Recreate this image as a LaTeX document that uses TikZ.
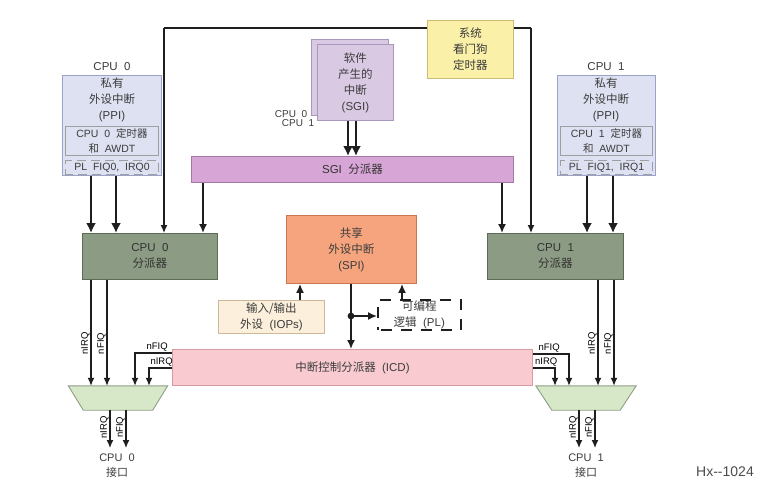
\documentclass[tikz,border=0pt]{standalone}
\usepackage{fontspec}
\setmainfont{Liberation Sans}
\newfontfamily\cjk{Noto Sans CJK SC}
\usetikzlibrary{arrows.meta}
\newcommand{\zh}[1]{{\cjk #1}}
\definecolor{txt}{HTML}{3C3C3C}
\definecolor{ppifill}{HTML}{DDE1F1}
\definecolor{ppidraw}{HTML}{9AA2C8}
\definecolor{sgifill}{HTML}{D9C9E3}
\definecolor{sgidraw}{HTML}{A898BC}
\definecolor{wdfill}{HTML}{FAF0A8}
\definecolor{wddraw}{HTML}{C9BB78}
\definecolor{sgidfill}{HTML}{D7A5D6}
\definecolor{sgiddraw}{HTML}{A577A5}
\definecolor{distfill}{HTML}{8C9B83}
\definecolor{distdraw}{HTML}{5C6B55}
\definecolor{spifill}{HTML}{F6A47E}
\definecolor{spidraw}{HTML}{C97656}
\definecolor{iopfill}{HTML}{FCF0DC}
\definecolor{iopdraw}{HTML}{CDB898}
\definecolor{icdfill}{HTML}{F9CBD0}
\definecolor{icddraw}{HTML}{D69AA2}
\definecolor{muxfill}{HTML}{D6E8C8}
\definecolor{muxdraw}{HTML}{8E9E88}
\definecolor{linec}{HTML}{1E1E1E}
\tikzset{
  box/.style={draw, line width=0.9pt, inner sep=0pt, anchor=north west, align=center},
  dbox/.style={draw=gray!75, line width=1pt, dash pattern=on 9pt off 5pt, dash phase=2pt, inner sep=0pt, anchor=north west, align=center, font=\fontsize{10.5}{12}\selectfont},
  arr/.style={draw=linec, line width=1.6pt, -{Latex[length=9pt,width=8pt]}},
  tarr/.style={draw=linec, line width=2.4pt, -{Latex[length=10pt,width=10pt]}},
  sarr/.style={draw=linec, line width=1.3pt, -{Latex[length=8pt,width=7pt]}},
  sline/.style={draw=linec, line width=1.3pt},
  sig/.style={font=\fontsize{9.5}{10}\selectfont, text=black, inner sep=0.8pt},
  vsig/.style={sig, rotate=90, anchor=south},
  muxshape/.style={fill=muxfill, draw=muxdraw, line width=0.9pt},
  hidden/.style={inner sep=0pt, minimum width=#1, minimum height=24pt},
}
\begin{document}
\begin{tikzpicture}[x=1pt,y=-1pt, font=\fontsize{11.5}{16}\selectfont, text=txt]
\useasboundingbox (0,0) rectangle (773,488);
\fill[white] (0,0) rectangle (773,488);

% top watchdog line (behind the watchdog box)
\coordinate (tl) at (164,28);
\coordinate (tr) at (531,28);
\draw[sline] (tl) -- (tr);

% ---------- boxes ----------
\node[box, fill=wdfill, draw=wddraw, minimum width=86pt, minimum height=58pt] (wd) at (427,20) {\zh{系统}\\\zh{看门狗}\\\zh{定时器}};

% PPI CPU0
\node (c0) at (112,67) {CPU\ \ 0};
\node[box, fill=ppifill, draw=ppidraw, minimum width=99pt, minimum height=100pt] (ppi0) at (62,75) {};
\node[inner sep=0pt, align=center] (ppi0t) at (112,100) {\zh{私有}\\\zh{外设中断}\\(PPI)};
\node[box, fill=ppifill, draw=gray!75, minimum width=93pt, minimum height=29pt, font=\fontsize{10.5}{15}\selectfont] (tm0) at (65,126) {CPU\ \ 0\ \ \zh{定时器}\\\zh{和}\ \ AWDT};
\node[dbox, minimum width=93pt, minimum height=14pt] (pl0) at (65,160) {PL\ \ FIQ0,\ \ IRQ0};

% PPI CPU1
\node (c1) at (606,67) {CPU\ \ 1};
\node[box, fill=ppifill, draw=ppidraw, minimum width=98pt, minimum height=100pt] (ppi1) at (557,75) {};
\node[inner sep=0pt, align=center] (ppi1t) at (606,100) {\zh{私有}\\\zh{外设中断}\\(PPI)};
\node[box, fill=ppifill, draw=gray!75, minimum width=92pt, minimum height=29pt, font=\fontsize{10.5}{15}\selectfont] (tm1) at (560,126) {CPU\ \ 1\ \ \zh{定时器}\\\zh{和}\ \ AWDT};
\node[dbox, minimum width=92pt, minimum height=14pt] (pl1) at (560,160) {PL\ \ FIQ1,\ \ IRQ1};

% SGI
\node[box, fill=sgifill, draw=sgidraw, minimum width=77pt, minimum height=76pt] (sgib) at (311,39) {};
\node[box, fill=sgifill, draw=sgidraw, minimum width=76pt, minimum height=76pt] (sgi) at (317,44) {\zh{软件}\\\zh{产生的}\\\zh{中断}\\(SGI)};
\node[sig, text=txt, font=\fontsize{10}{10}\selectfont] (sc0) at (291,114) {CPU\ \ 0};
\node[sig, text=txt, font=\fontsize{10}{10}\selectfont] (sc1) at (298,123) {CPU\ \ 1};

% SGI distributor
\node[box, fill=sgidfill, draw=sgiddraw, minimum width=322pt, minimum height=26pt, text=black!80] (sgid) at (191,156) {SGI\ \ \zh{分派器}};

% CPU distributors
\node[box, fill=distfill, draw=distdraw, minimum width=135pt, minimum height=46pt, text=black!80] (dist0) at (82,233) {CPU\ \ 0\\\zh{分派器}};
\node[box, fill=distfill, draw=distdraw, minimum width=136pt, minimum height=46pt, text=black!80] (dist1) at (487,233) {CPU\ \ 1\\\zh{分派器}};

% SPI
\node[box, fill=spifill, draw=spidraw, minimum width=130pt, minimum height=68pt] (spi) at (286,215) {\zh{共享}\\\zh{外设中断}\\(SPI)};

% IOPs
\node[box, fill=iopfill, draw=iopdraw, minimum width=106pt, minimum height=33pt] (iop) at (218,300) {\zh{输入/输出}\\\zh{外设}\ \ (IOPs)};

% PL
\node[box, draw=linec, line width=1.6pt, dash pattern=on 11pt off 9pt, dash phase=-3pt, minimum width=83pt, minimum height=30pt] (pl) at (377,299) {\zh{可编程}\\\zh{逻辑}\ \ (PL)};

% ICD
\node[box, fill=icdfill, draw=icddraw, minimum width=360pt, minimum height=36pt] (icd) at (172,349) {\zh{中断控制分派器}\ \ (ICD)};

% muxes (trapezoids) with invisible named frames
\node[hidden=99pt] (mux0) at (118,398) {};
\draw[muxshape] (mux0.north west) -- (mux0.north east) -- ([xshift=-15pt]mux0.south east) -- ([xshift=15pt]mux0.south west) -- cycle;
\node[hidden=100pt] (mux1) at (586,398) {};
\draw[muxshape] (mux1.north west) -- (mux1.north east) -- ([xshift=-16pt]mux1.south east) -- ([xshift=16pt]mux1.south west) -- cycle;

% ---------- connectors ----------
% watchdog line ends
\draw[sarr] (tl) -- (tl |- dist0.north);
\draw[sarr] (tr) -- (tr |- dist1.north);

% PPI -> distributors
\draw[tarr] (91,0 |- ppi0.south) -- (91,0 |- dist0.north);
\draw[tarr] (116,0 |- ppi0.south) -- (116,0 |- dist0.north);
\draw[tarr] (587,0 |- ppi1.south) -- (587,0 |- dist1.north);
\draw[tarr] (613,0 |- ppi1.south) -- (613,0 |- dist1.north);

% SGI -> SGI distributor
\draw[tarr] (348,0 |- sgi.south) -- (348,0 |- sgid.north);
\draw[tarr] (356,0 |- sgi.south) -- (356,0 |- sgid.north);

% SGI distributor -> distributors
\draw[arr] (203,0 |- sgid.south) -- (203,0 |- dist0.north);
\draw[arr] (502,0 |- sgid.south) -- (502,0 |- dist1.north);

% IOPs, PL -> SPI
\draw[arr] (300,0 |- iop.north) -- (300,0 |- spi.south);
\draw[arr] (402,0 |- pl.north) -- (402,0 |- spi.south);

% SPI -> ICD with branch to PL
\coordinate (br) at (351,316);
\draw[arr] (br |- spi.south) -- (br |- icd.north);
\draw[arr] (br) -- (br -| pl.west);
\fill[linec] (br) circle (3.4pt);

% distributor0 -> mux0
\draw[sarr] (91,0 |- dist0.south) -- node[vsig, pos=0.6] {nIRQ} (91,0 |- mux0.north);
\draw[sarr] (107,0 |- dist0.south) -- node[vsig, pos=0.6] {nFIQ} (107,0 |- mux0.north);
% ICD -> mux0
\draw[sarr] (icd.west |- 0,353) -- node[sig, above, pos=0.4] {nFIQ} (135,353) -- (135,0 |- mux0.north);
\draw[sarr] (icd.west |- 0,368) -- node[sig, above, pos=0.45] {nIRQ} (149,368) -- (149,0 |- mux0.north);
% mux0 outputs
\coordinate (o0a) at (110,448);
\coordinate (o0b) at (126,448);
\draw[sarr] (o0a |- mux0.south) -- node[vsig, pos=0.45] {nIRQ} (o0a);
\draw[sarr] (o0b |- mux0.south) -- node[vsig, pos=0.45] {nFIQ} (o0b);
\node[align=center, font=\fontsize{11}{15}\selectfont] (if0) at (117,466) {CPU\ \ 0\\\zh{接口}};

% distributor1 -> mux1
\draw[sarr] (598,0 |- dist1.south) -- node[vsig, pos=0.6] {nIRQ} (598,0 |- mux1.north);
\draw[sarr] (614,0 |- dist1.south) -- node[vsig, pos=0.6] {nFIQ} (614,0 |- mux1.north);
% ICD -> mux1
\draw[sarr] (icd.east |- 0,354) -- node[sig, above, pos=0.45] {nFIQ} (569,354) -- (569,0 |- mux1.north);
\draw[sarr] (icd.east |- 0,368) -- node[sig, above, pos=0.6] {nIRQ} (555,368) -- (555,0 |- mux1.north);
% mux1 outputs
\coordinate (o1a) at (579,448);
\coordinate (o1b) at (595,448);
\draw[sarr] (o1a |- mux1.south) -- node[vsig, pos=0.45] {nIRQ} (o1a);
\draw[sarr] (o1b |- mux1.south) -- node[vsig, pos=0.45] {nFIQ} (o1b);
\node[align=center, font=\fontsize{11}{15}\selectfont] (if1) at (586,466) {CPU\ \ 1\\\zh{接口}};

% watermark
\node[font=\fontsize{14}{15}\selectfont, text=black!70] (hx) at (725,472) {Hx{-}{-}1024};
\end{tikzpicture}
\end{document}
